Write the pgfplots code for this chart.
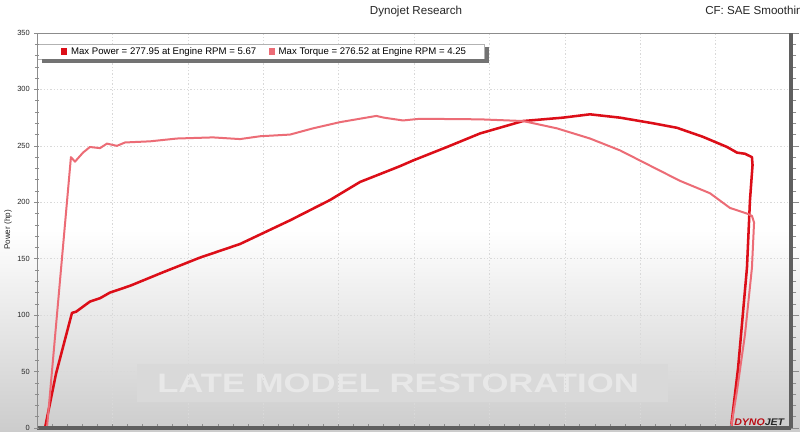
\documentclass[border=0pt]{standalone}
\usepackage{pgfplots}
\pgfplotsset{compat=1.18}
\usepackage{fontspec}
\setmainfont{Liberation Sans}
\definecolor{pwr}{RGB}{220,14,24}
\definecolor{trq}{RGB}{236,108,118}
\definecolor{framec}{RGB}{95,95,95}
\definecolor{tickc}{RGB}{140,140,140}
\begin{document}
\begin{tikzpicture}[x=1pt,y=1pt]
% page background
\fill[white] (0,0) rectangle (600,324);
\shade[top color=white, bottom color=black!20] (0,0) rectangle (600,152);
% watermark band
\fill[black!15] (102.75,22.5) rectangle (501,51);
\node[text=black!9, font=\bfseries\fontsize{20}{20}\selectfont, xscale=1.3] at (298.5,36.75) {LATE MODEL RESTORATION};
% titles
\node[font=\fontsize{8.7}{10}\selectfont, text=black!85] at (312,315) {Dynojet Research};
\node[font=\fontsize{8.7}{10}\selectfont, text=black!85, anchor=west, inner sep=0pt] at (528.75,315) {CF: SAE Smoothing};
\node[font=\fontsize{6.1}{7}\selectfont, text=black!85, rotate=90] at (6,151.5) {Power (hp)};
% main axis: grid, data, legend
\begin{axis}[
  at={(27.75pt,3pt)}, anchor=south west,
  scale only axis, width=565.5pt, height=296.25pt,
  xmin=2, xmax=7, ymin=0, ymax=350,
  axis line style={draw=none},
  xtick={2,2.5,...,7}, ytick={0,50,...,350},
  xticklabels={}, yticklabels={},
  tick style={draw=none},
  xmajorgrids, ymajorgrids,
  major grid style={gray!30, dash pattern=on 1pt off 1.5pt},
  legend style={name=leg, at={(rel axis cs:0,1)}, anchor=north west, yshift=-8.25pt,
    outer sep=0pt,
    draw=gray!60, fill=white, inner xsep=12pt, inner ysep=0.3pt,
    font=\fontsize{7.2}{8}\selectfont,
    /tikz/every even column/.append style={column sep=1.5pt},
    /tikz/every odd column/.append style={column sep=1pt}},
  legend columns=2, legend cell align=left,
  legend image code/.code={\path (0pt,0pt); \fill[#1,draw=none] (5pt,-2.4pt) rectangle (9.6pt,2.4pt);},
]
\addplot[color=pwr, line width=1.9pt, line join=round] coordinates {
(2.053,0) (2.126,48) (2.232,102) (2.259,103) (2.351,112) (2.418,115) (2.484,120)
(2.617,126) (2.836,138) (3.081,151) (3.346,163) (3.678,184) (3.943,202)
(4.142,218) (4.275,225) (4.407,232) (4.493,237) (4.719,249) (4.938,261)
(5.223,272) (5.488,275) (5.667,277.95) (5.866,275) (6.085,270) (6.244,266)
(6.416,258) (6.576,249) (6.642,244) (6.695,243) (6.741,240) (6.745,233)
(6.728,202) (6.708,142) (6.649,53) (6.602,0)
};
\addlegendentry{Max Power = 277.95 at Engine RPM = 5.67}
\addplot[color=trq, line width=1.5pt, line join=round] coordinates {
(2.066,0) (2.225,240) (2.252,236) (2.305,244) (2.351,249) (2.418,248)
(2.464,252) (2.530,250) (2.584,253) (2.749,254) (2.928,256.5) (3.167,257.5)
(3.346,256) (3.479,258.5) (3.678,260) (3.830,265.5) (4.009,271) (4.25,276.52)
(4.300,275) (4.427,272.5) (4.540,274) (4.938,273.5) (5.223,272) (5.448,265.5)
(5.667,256.5) (5.866,246) (6.131,228) (6.264,219) (6.463,208) (6.595,195)
(6.708,190) (6.741,188) (6.755,182) (6.741,142) (6.695,83) (6.642,33) (6.602,0)
};
\addlegendentry{Max Torque = 276.52 at Engine RPM = 4.25}
\draw[tickc, line width=0.6pt] (rel axis cs:0,1) -- (rel axis cs:1,1);
\end{axis}
% legend shadow (L-shaped, outside the box)
\fill[black!55] ([xshift=4pt]leg.south west) rectangle ([xshift=3pt,yshift=-3pt]leg.south east);
\fill[black!55] ([yshift=-2.5pt]leg.north east) rectangle ([xshift=3pt,yshift=-3pt]leg.south east);
% bottom axis ticks
\begin{axis}[
  at={(27.75pt,3pt)}, anchor=south west,
  scale only axis, width=565.5pt, height=296.25pt,
  xmin=2, xmax=7, ymin=0, ymax=350,
  hide y axis, axis x line*=bottom,
  axis line style={framec, line width=2.6pt},
  xtick={2,2.5,...,7}, minor x tick num=4, xticklabels={},
  tick align=inside, major tick length=3pt, minor tick length=3pt,
  tick style={tickc, line width=0.6pt},
]
\end{axis}
% left axis
\begin{axis}[
  at={(27.75pt,3pt)}, anchor=south west,
  scale only axis, width=565.5pt, height=296.25pt,
  xmin=2, xmax=7, ymin=0, ymax=350,
  hide x axis, axis y line*=left,
  axis line style={tickc, line width=0.6pt},
  ytick={0,50,...,350}, minor y tick num=4,
  tick align=center, major tick length=3.75pt, minor tick length=3pt,
  tick style={tickc, line width=0.5pt},
  /pgf/number format/assume math mode=true,
  yticklabel style={font=\fontsize{5.6}{6}\selectfont, text=black!85},
]
\end{axis}
% right axis
\begin{axis}[
  at={(27.75pt,3pt)}, anchor=south west,
  scale only axis, width=565.5pt, height=296.25pt,
  xmin=2, xmax=7, ymin=0, ymax=350,
  hide x axis, axis y line*=right,
  axis line style={framec, line width=2.6pt},
  ytick={0,50,...,350}, minor y tick num=4, yticklabels={},
  tick align=outside, major tick length=6pt, minor tick length=4pt,
  tick style={tickc, line width=0.5pt},
]
\end{axis}
% dynojet logo
\node[font=\bfseries\itshape\fontsize{7.2}{8}\selectfont, anchor=east, xscale=1.1] at (592,7.5) {\textcolor{pwr!85!black}{DYNO}\textcolor{black!85}{JET}};
\pgfresetboundingbox
\useasboundingbox (0,0) rectangle (600,324);
\end{tikzpicture}
\end{document}
